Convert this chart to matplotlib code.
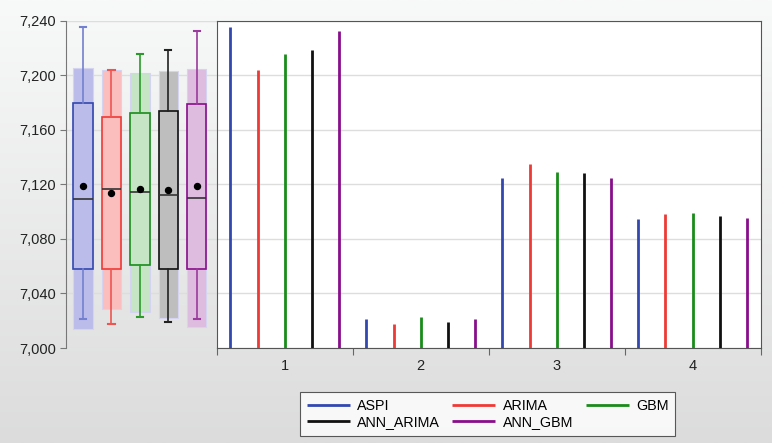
import numpy as np
import matplotlib
matplotlib.use('Agg')
import matplotlib.pyplot as plt
from matplotlib.colors import LinearSegmentedColormap
from matplotlib.ticker import FuncFormatter


# values, one per period (1..4)
periods = [1, 2, 3, 4]
aspi = [7235.1, 7021.3, 7124.5, 7094.5]
arima = [7204.0, 7017.6, 7135.0, 7098.1]
gbm = [7215.8, 7022.5, 7129.2, 7099.3]
ann_arima = [7218.7, 7019.1, 7128.2, 7096.7]
ann_gbm = [7232.4, 7021.3, 7125.0, 7095.2]

names = ['ASPI', 'ARIMA', 'GBM', 'ANN_ARIMA', 'ANN_GBM']
series = [aspi, arima, gbm, ann_arima, ann_gbm]
colors = ['#3347b0', '#ee3a36', '#1a8c1a', '#111111', '#880e8a']
fills = ['#bcbcea', '#fcbdbd', '#c5e5c5', '#bebebe', '#ddbcdf']
whisker_colors = ['#7380d0', '#ee5550', '#2a9a2a', '#222222', '#9a3a9c']

y_min, y_max = 7000, 7240
y_ticks = [7000, 7040, 7080, 7120, 7160, 7200, 7240]


def box_stats(values):
    v = np.sort(np.asarray(values, dtype=float))
    q1, med, q3 = np.percentile(v, [25, 50, 75], method='midpoint')
    iqr = q3 - q1
    half = 1.57 * iqr / np.sqrt(len(v))
    return {
        'med': med, 'q1': q1, 'q3': q3,
        'whislo': v.min(), 'whishi': v.max(),
        'mean': v.mean(), 'cilo': med - half, 'cihi': med + half,
        'fliers': [],
    }


W, H = 772, 443
fig = plt.figure(figsize=(W / 100, H / 100), dpi=100)
plt.rcParams['font.family'] = ['Liberation Sans', 'DejaVu Sans']

# soft grey gradient behind everything
bg = fig.add_axes([0, 0, 1, 1], zorder=-10)
grad = np.linspace(0, 1, 256).reshape(-1, 1)
bg.imshow(grad, aspect='auto', extent=[0, 1, 0, 1],
          cmap=LinearSegmentedColormap.from_list('bg', ['#f8f9f9', '#dcdcdc']))
bg.axis('off')

bottom = (H - 348) / H
height = (348 - 20.7) / H

# left panel: box plots
ax_box = fig.add_axes([66 / W, bottom, (216.7 - 66) / W, height])
ax_box.set_facecolor('none')
positions = np.arange(1, len(series) + 1)
stats = [box_stats(s) for s in series]

box_w = 0.68
for p, st, f in zip(positions, stats, fills):
    # shaded band = median +/- 1.57*IQR/sqrt(n)
    ax_box.bar(p, st['cihi'] - st['cilo'], bottom=st['cilo'], width=box_w,
               color=f, edgecolor='#d4d4f2', linewidth=0.8, zorder=2)

for p, st, c, f, wc in zip(positions, stats, colors, fills, whisker_colors):
    ax_box.bxp([st], positions=[p], widths=box_w, showmeans=True, patch_artist=True,
               showfliers=False,
               boxprops=dict(facecolor=f, edgecolor=c, linewidth=1.2),
               whiskerprops=dict(color=wc, linewidth=1.2),
               capprops=dict(color=wc, linewidth=1.5),
               medianprops=dict(color='#333333', linewidth=1.2),
               meanprops=dict(marker='o', markerfacecolor='black', markeredgecolor='black',
                              markersize=4.3),
               capwidths=0.22,
               zorder=3)

ax_box.set_xlim(0.40, 5.70)
ax_box.set_ylim(y_min, y_max)
ax_box.set_yticks(y_ticks)
ax_box.yaxis.set_major_formatter(FuncFormatter(lambda v, _: f'{v:,.0f}'))
ax_box.tick_params(axis='y', direction='out', length=4, color='#777777',
                   labelsize=10.5, labelcolor='#222222', pad=3)
ax_box.set_xticks([])
for side in ['top', 'right', 'bottom']:
    ax_box.spines[side].set_visible(False)
ax_box.spines['left'].set_color('#777777')
ax_box.grid(axis='y', color='#dddddd', linewidth=1)
ax_box.set_axisbelow(True)

# right panel: spikes per period
ax = fig.add_axes([216.7 / W, bottom, (760.7 - 216.7) / W, height])
ax.set_facecolor('white')
n = len(series)
for k, (name, s, c) in enumerate(zip(names, series, colors)):
    xs = np.array(periods) - 0.5 + (k + 0.5) / n
    ax.vlines(xs, y_min, s, color=c, linewidth=2, label=name, zorder=3)

ax.set_xlim(0.5, len(periods) + 0.5)
ax.set_ylim(y_min, y_max)
ax.set_yticks(y_ticks)
ax.tick_params(axis='y', left=False, labelleft=False)
ax.set_xticks(np.arange(0.5, len(periods) + 1, 1))
ax.set_xticklabels([])
ax.set_xticks(periods, minor=True)
ax.set_xticklabels([str(p) for p in periods], minor=True)
ax.tick_params(axis='x', which='major', direction='out', length=5, color='#666666')
ax.tick_params(axis='x', which='minor', length=0, labelsize=10.5, labelcolor='#222222', pad=8)
for side in ax.spines:
    ax.spines[side].set_color('#555555')
ax.grid(axis='y', color='#dddddd', linewidth=1)
ax.set_axisbelow(True)

# legend fills rows: ASPI ARIMA GBM / ANN_ARIMA ANN_GBM
handles, labels = ax.get_legend_handles_labels()
order = [0, 3, 1, 4, 2]
leg = fig.legend([handles[i] for i in order], [labels[i] for i in order],
                 loc='center', bbox_to_anchor=(487.5 / W, 29 / H), ncol=3,
                 fontsize=10.3, frameon=True, fancybox=False, handlelength=3,
                 handletextpad=0.5, columnspacing=0.9, labelspacing=0.2,
                 borderpad=0.45, borderaxespad=0)
leg.get_frame().set_edgecolor('#333333')
leg.get_frame().set_linewidth(0.8)
for line in leg.get_lines():
    line.set_linewidth(2)

fig.savefig('out.png', dpi=100)
